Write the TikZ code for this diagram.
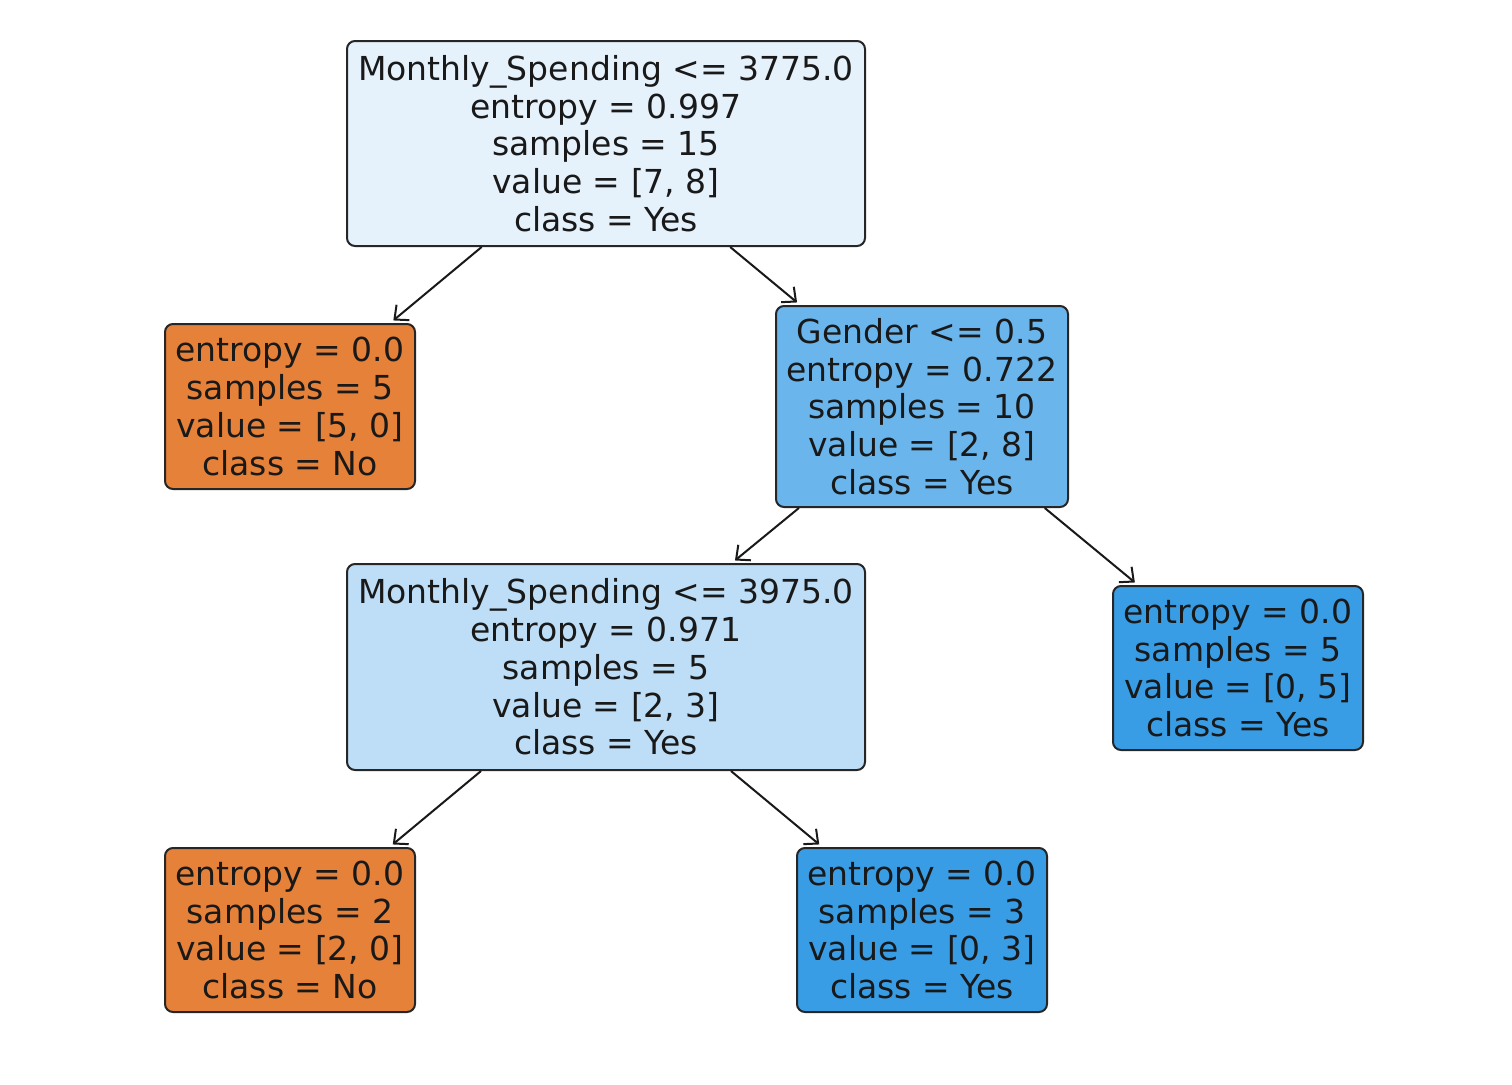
\documentclass[tikz,border=0pt]{standalone}
\usepackage{fontspec}
\setmainfont{DejaVu Sans}
\usetikzlibrary{arrows.meta}

\definecolor{noclass}{HTML}{E58139}
\definecolor{yesclass}{HTML}{399DE5}
\definecolor{rootfill}{HTML}{E5F2FC}
\definecolor{splitfill}{HTML}{6AB6EC}
\definecolor{lowfill}{HTML}{BDDEF6}

\begin{document}
\begin{tikzpicture}[
    x=1pt, y=-1pt,
    font=\fontsize{33pt}{37.8pt}\selectfont,
    >={Straight Barb[length=11pt, width=20pt]},
    box/.style={rectangle, rounded corners=8pt, draw=black!85, line width=2pt, align=center, inner sep=0pt, text=black!90},
    leaf/.style={box, minimum width=250pt, minimum height=165pt},
    split/.style={box, minimum height=205pt},
    edge/.style={->, line width=2pt, black!90, shorten >=4pt}
]
\useasboundingbox (0,0) rectangle (1512,1084);

\node[split, fill=rootfill, minimum width=518pt] (root) at (606,143.5)
    {Monthly\_Spending <= 3775.0\\entropy = 0.997\\samples = 15\\value = [7, 8]\\class = Yes};
\node[leaf, fill=noclass] (leftA) at (290,406.5)
    {entropy = 0.0\\samples = 5\\value = [5, 0]\\class = No};
\node[split, fill=splitfill, minimum width=292pt, minimum height=201pt] (gender) at (922,406.5)
    {Gender <= 0.5\\entropy = 0.722\\samples = 10\\value = [2, 8]\\class = Yes};
\node[split, fill=lowfill, minimum width=518pt, minimum height=206pt] (spend) at (606,667)
    {Monthly\_Spending <= 3975.0\\entropy = 0.971\\samples = 5\\value = [2, 3]\\class = Yes};
\node[leaf, fill=yesclass, minimum height=164pt] (rightA) at (1238,668)
    {entropy = 0.0\\samples = 5\\value = [0, 5]\\class = Yes};
\node[leaf, fill=noclass, minimum height=164pt] (leftB) at (290,930)
    {entropy = 0.0\\samples = 2\\value = [2, 0]\\class = No};
\node[leaf, fill=yesclass, minimum height=164pt] (rightB) at (922,930)
    {entropy = 0.0\\samples = 3\\value = [0, 3]\\class = Yes};

% tree edges
\draw[edge] (root) -- (leftA);
\draw[edge] (root) -- (gender);
\draw[edge] (gender) -- (spend);
\draw[edge] (gender) -- (rightA);
\draw[edge] (spend) -- (leftB);
\draw[edge] (spend) -- (rightB);
\end{tikzpicture}
\end{document}
